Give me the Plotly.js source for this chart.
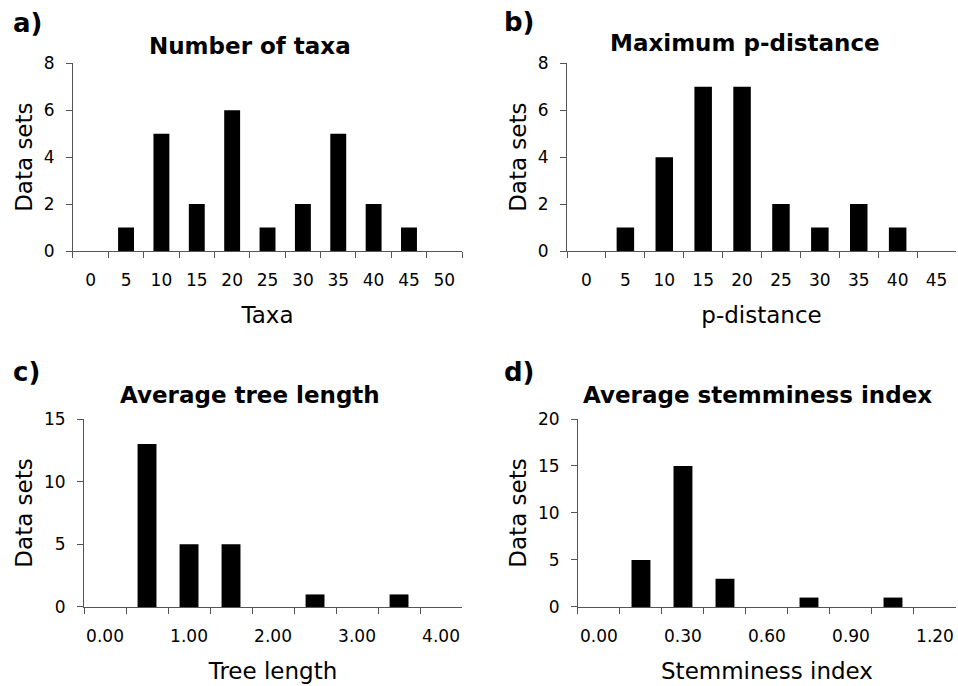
<!DOCTYPE html>
<html>
<head>
<meta charset="utf-8">
<script src="https://cdn.plot.ly/plotly-3.0.1.min.js"></script>
<style>html,body{margin:0;padding:0;background:#fff;}#chart{width:958px;height:686px;}</style>
</head>
<body>
<div id="chart"></div>
<script>
// Panel a: Number of taxa
const taxaCats = ["0","5","10","15","20","25","30","35","40","45","50"];
const taxaCounts = [0,1,5,2,6,1,2,5,2,1,0];
// Panel b: Maximum p-distance
const pdistCats = ["0","5","10","15","20","25","30","35","40","45"];
const pdistCounts = [0,1,4,7,7,2,1,2,1,0];
// Panel c: Average tree length
const treeCats = ["0.00","0.50","1.00","1.50","2.00","2.50","3.00","3.50","4.00"];
const treeCounts = [0,13,5,5,0,1,0,1,0];
const treeTickLabels = ["0.00","","1.00","","2.00","","3.00","","4.00"];
// Panel d: Average stemminess index
const stemCats = ["0.00","0.15","0.30","0.45","0.60","0.75","0.90","1.05","1.20"];
const stemCounts = [0,5,15,3,0,1,0,1,0];
const stemTickLabels = ["0.00","","0.30","","0.60","","0.90","","1.20"];

const titles = ["Number of taxa","Maximum p-distance","Average tree length","Average stemminess index"];
const letters = ["a)","b)","c)","d)"];
const xTitles = ["Taxa","p-distance","Tree length","Stemminess index"];

const FONT = "DejaVu Sans, Verdana, sans-serif";
const AX = "#555555";

const traces = [
  {x: taxaCats, y: taxaCounts, xaxis: "x", yaxis: "y"},
  {x: pdistCats, y: pdistCounts, xaxis: "x2", yaxis: "y2"},
  {x: treeCats, y: treeCounts, xaxis: "x3", yaxis: "y3"},
  {x: stemCats, y: stemCounts, xaxis: "x4", yaxis: "y4"}
].map(t => Object.assign(t, {type: "bar", marker: {color: "#000000", line: {width: 0}}, hoverinfo: "x+y"}));

function xax(domain, anchor, cats, labels, title) {
  return {
    domain: domain, anchor: anchor, type: "category",
    categoryorder: "array", categoryarray: cats,
    tickmode: "array", tickvals: cats, ticktext: labels, tickangle: 0,
    tickson: "boundaries", ticks: "outside", ticklen: 6, tickcolor: AX, tickwidth: 1,
    showline: true, linecolor: AX, linewidth: 1, showgrid: false, zeroline: false,
    tickfont: {family: FONT, size: 17, color: "#000"}, ticklabelstandoff: 14,
    range: [-0.5, cats.length - 0.5],
    title: {text: title, font: {family: FONT, size: 23, color: "#000"}, standoff: 17}
  };
}
function yax(domain, anchor, max, dtick) {
  return {
    domain: domain, anchor: anchor, range: [0, max], dtick: dtick, tick0: 0,
    ticks: "outside", ticklen: 6, tickcolor: AX, tickwidth: 1,
    showline: true, linecolor: AX, linewidth: 1, showgrid: false, zeroline: false,
    tickfont: {family: FONT, size: 17, color: "#000"}, ticklabelstandoff: 8,
    title: {text: "Data sets", font: {family: FONT, size: 23, color: "#000"}, standoff: 4}
  };
}

const topY = [0.6341, 0.9077];
const botY = [0.1152, 0.3892];

const layout = {
  width: 958, height: 686,
  margin: {l: 0, r: 0, t: 0, b: 0},
  paper_bgcolor: "#fff", plot_bgcolor: "#fff",
  showlegend: false, bargap: 0.55,
  font: {family: FONT, color: "#000"},
  xaxis: xax([0.0762, 0.4823], "y", taxaCats, taxaCats, xTitles[0]),
  yaxis: yax(topY, "x", 8, 2),
  xaxis2: xax([0.5919, 0.9979], "y2", pdistCats, pdistCats, xTitles[1]),
  yaxis2: yax(topY, "x2", 8, 2),
  xaxis3: xax([0.0877, 0.4823], "y3", treeCats, treeTickLabels, xTitles[2]),
  yaxis3: yax(botY, "x3", 15, 5),
  xaxis4: xax([0.6033, 0.9979], "y4", stemCats, stemTickLabels, xTitles[3]),
  yaxis4: yax(botY, "x4", 20, 5),
  annotations: [
    {text: "<b>" + titles[0] + "</b>", x: 250/958, y: 1 - 46/686},
    {text: "<b>" + titles[1] + "</b>", x: 745/958, y: 1 - 43/686},
    {text: "<b>" + titles[2] + "</b>", x: 250/958, y: 1 - 395/686},
    {text: "<b>" + titles[3] + "</b>", x: 757/958, y: 1 - 395/686},
    {text: "<b>" + letters[0] + "</b>", x: 11/958, y: 1 - 23/686, xanchor: "left", size: 26},
    {text: "<b>" + letters[1] + "</b>", x: 502/958, y: 1 - 22/686, xanchor: "left", size: 26},
    {text: "<b>" + letters[2] + "</b>", x: 11/958, y: 1 - 372/686, xanchor: "left", size: 26},
    {text: "<b>" + letters[3] + "</b>", x: 502/958, y: 1 - 372/686, xanchor: "left", size: 26}
  ].map(a => ({
    text: a.text, x: a.x, y: a.y, xref: "paper", yref: "paper",
    xanchor: a.xanchor || "center", yanchor: "middle", showarrow: false,
    font: {family: FONT, size: a.size || 23, color: "#000"}
  }))
};

Plotly.newPlot("chart", traces, layout, {displayModeBar: false, staticPlot: true});
</script>
</body>
</html>
